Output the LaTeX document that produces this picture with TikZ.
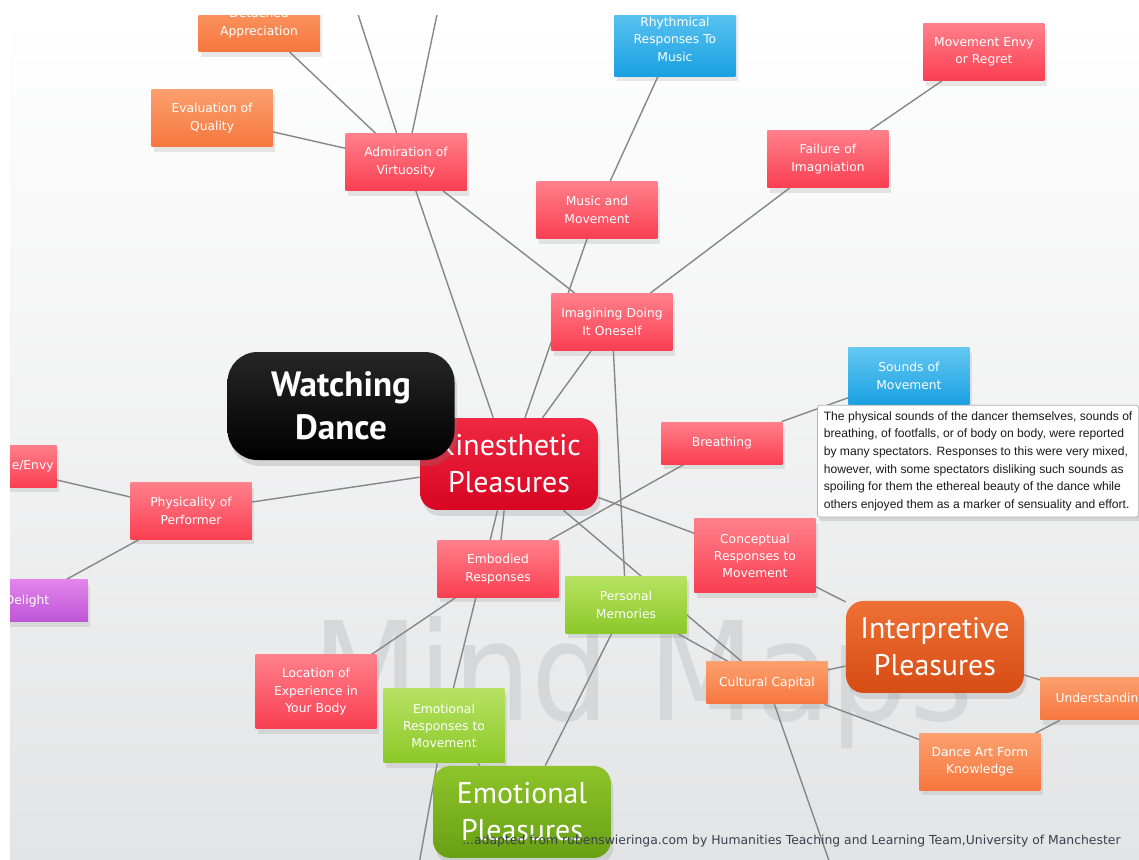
\documentclass[tikz,border=0pt]{standalone}
\usepackage{xcolor}
\usepackage{fontspec}
\setmainfont{DejaVu Sans}
\newfontfamily\headfont{PT Sans}
\newfontfamily\notefont{Liberation Sans}
\usepackage{tikz}
\usetikzlibrary{shadows}

\definecolor{redtop}{RGB}{255,128,138}
\definecolor{redbot}{RGB}{250,62,82}
\definecolor{kintop}{RGB}{240,40,65}
\definecolor{kinbot}{RGB}{215,5,35}
\definecolor{ortop}{RGB}{252,160,110}
\definecolor{orbot}{RGB}{246,118,62}
\definecolor{intop}{RGB}{238,112,52}
\definecolor{inbot}{RGB}{214,76,20}
\definecolor{grtop}{RGB}{182,226,98}
\definecolor{grbot}{RGB}{140,200,40}
\definecolor{eptop}{RGB}{142,196,42}
\definecolor{epbot}{RGB}{104,160,20}
\definecolor{bltop}{RGB}{100,200,242}
\definecolor{blbot}{RGB}{25,160,225}
\definecolor{putop}{RGB}{226,132,236}
\definecolor{pubot}{RGB}{190,85,215}
\definecolor{linkgray}{RGB}{135,135,135}
\definecolor{bgbot}{RGB}{227,228,229}
\definecolor{wmgray}{RGB}{212,216,218}
\definecolor{footgray}{RGB}{60,62,80}

\pgfdeclarelayer{back}
\pgfdeclarelayer{edges}
\pgfsetlayers{back,edges,main}

\begin{document}
\begin{tikzpicture}[x=0.02cm,y=-0.02cm]
      \tikzset{box/.style={rectangle,minimum width=2.42cm,minimum height=1.14cm,text width=2.3cm,align=center,inner sep=1pt,text=white,font=\fontsize{7}{9.9}\selectfont,drop shadow={shadow xshift=0.5mm,shadow yshift=-1mm,opacity=0.18}}}
      \tikzset{one/.style={minimum height=0.84cm}}
      \tikzset{three/.style={minimum height=1.48cm}}
      \tikzset{redbox/.style={box,top color=redtop,bottom color=redbot}}
      \tikzset{orbox/.style={box,top color=ortop,bottom color=orbot}}
      \tikzset{grbox/.style={box,top color=grtop,bottom color=grbot}}
      \tikzset{blbox/.style={box,top color=bltop,bottom color=blbot}}
      \tikzset{pubox/.style={box,top color=putop,bottom color=pubot}}
      \tikzset{big/.style={rectangle,rounded corners=10pt,minimum width=3.56cm,minimum height=1.84cm,align=center,text=white,font=\headfont\fontsize{17}{21}\selectfont,drop shadow={shadow xshift=0.5mm,shadow yshift=-1.2mm,opacity=0.22}}}
      \tikzset{hub/.style={rectangle,rounded corners=17pt,minimum width=4.54cm,minimum height=2.16cm,align=center,text=white,top color=black!85,bottom color=black,font=\headfont\bfseries\fontsize{20}{24.4}\selectfont,drop shadow={shadow xshift=0.5mm,shadow yshift=-1.2mm,opacity=0.25}}}
      \tikzset{note/.style={rectangle,fill=white,draw=black!30,line width=0.4pt,rounded corners=1.5pt,align=left,inner sep=3.6pt,text=black!90,font=\notefont\fontsize{6.9}{10}\selectfont,drop shadow={shadow xshift=0.4mm,shadow yshift=-0.8mm,opacity=0.25}}}
      \tikzset{link/.style={draw=linkgray,line width=0.8pt}}
      \tikzset{credit/.style={font=\fontsize{7.05}{8}\selectfont,text=footgray,inner sep=0pt}}
      
      \useasboundingbox (0,0) rectangle (1139,859);
      
      \begin{pgfonlayer}{back}
      \fill[white] (0,0) rectangle (1139,859);
      \shade[top color=white,bottom color=bgbot] (10,15) rectangle (1139,859);
      \begin{scope}
      \clip (10,15) rectangle (1139,859);
      \node[text=wmgray,inner sep=0pt,anchor=base west,font=\fontsize{78}{80}\selectfont] (wm) at (312,720) {\scalebox{0.9}[1]{Mind Maps}};
      \end{scope}
      \end{pgfonlayer}
      
      \begin{scope}
      \clip (10,15) rectangle (1139,859);
      
      \node[big,top color=kintop,bottom color=kinbot] (kin) at (509,464) {Kinesthetic\\Pleasures};
      \node[hub] (watch) [left of=kin,xshift=-23.6mm,yshift=11.6mm] {Watching\\Dance};
      
      \node[redbox] (admir) [above of=kin,xshift=-20.6mm,yshift=50.4mm] {Admiration of\\Virtuosity};
      \node[orbox] (eval) [left of=admir,xshift=-28.8mm,yshift=8.8mm] {Evaluation of\\Quality};
      \node[orbox] (detach) [above of=admir,xshift=-29.4mm,yshift=17.8mm] {Detached\\Appreciation};
      
      \node[redbox] (imag) [above of=kin,xshift=20.6mm,yshift=18.4mm] {Imagining Doing\\It Oneself};
      \node[redbox] (music) [above of=imag,xshift=-3mm,yshift=12.4mm] {Music and\\Movement};
      \node[blbox,three] (rhythm) [above of=music,xshift=15.6mm,yshift=24.2mm] {Rhythmical\\Responses To\\Music};
      \node[redbox] (fail) [right of=imag,xshift=33.2mm,yshift=32.6mm] {Failure of\\Imagniation};
      \node[redbox] (envy) [right of=fail,xshift=21.2mm,yshift=21.4mm] {Movement Envy\\or Regret};
      
      \node[redbox,one] (breath) [right of=kin,xshift=32.6mm,yshift=4.2mm] {Breathing};
      \node[blbox] (sounds) [right of=breath,xshift=27.4mm,yshift=13.4mm] {Sounds of\\Movement};
      \node[redbox,three] (concept) [right of=kin,xshift=39.2mm,yshift=-18.4mm] {Conceptual\\Responses to\\Movement};
      
      \node[redbox,one,align=right] (penvy) [left of=kin,xshift=-92.6mm,yshift=-0.4mm] {e/Envy};
      \node[redbox] (physic) [left of=kin,xshift=-53.6mm,yshift=-9.4mm] {Physicality of\\Performer};
      \node[pubox,one] (delight) [left of=physic,xshift=-22.8mm,yshift=-18mm] {Delight};
      
      \node[redbox] (embod) [below of=kin,xshift=-2.2mm,yshift=-11mm] {Embodied\\Responses};
      \node[grbox] (pers) [below of=kin,xshift=23.4mm,yshift=-18.2mm] {Personal\\Memories};
      \node[redbox,three] (loc) [left of=embod,xshift=-26.4mm,yshift=-24.6mm] {Location of\\Experience in\\Your Body};
      \node[grbox,three] (emoresp) [below of=embod,xshift=-10.8mm,yshift=-21.4mm] {Emotional\\Responses to\\Movement};
      \node[big,top color=eptop,bottom color=epbot] (emopl) [below of=emoresp,xshift=15.6mm,yshift=-7.2mm] {Emotional\\Pleasures};
      
      \node[orbox,one] (cult) [right of=pers,xshift=18.2mm,yshift=-15.6mm] {Cultural Capital};
      \node[big,top color=intop,bottom color=inbot] (interp) [right of=cult,xshift=23.6mm,yshift=7.2mm] {Interpretive\\Pleasures};
      \node[orbox,one] (under) [right of=interp,xshift=23.2mm,yshift=-10.4mm] {Understanding};
      \node[orbox] (dance) [right of=cult,xshift=32.6mm,yshift=-15.8mm] {Dance Art Form\\Knowledge};
      
      \node[note,anchor=north west] (tip) at ([xshift=-6.2mm]sounds.south west) {The physical sounds of the dancer themselves, sounds of\\breathing, of footfalls, or of body on body, were reported\\by many spectators. Responses to this were very mixed,\\however, with some spectators disliking such sounds as\\spoiling for them the ethereal beauty of the dance while\\others enjoyed them as a marker of sensuality and effort.};
      
      \node[credit,anchor=west] (foot) at (462,841) {...adapted from rubenswieringa.com by Humanities Teaching and Learning Team,University of Manchester};
      \end{scope}
      
      \coordinate (upa) at (355,5);
      \coordinate (upb) at (439,5);
      \coordinate (downa) at (417,875);
      \coordinate (downb) at (834,875);
      
      \begin{pgfonlayer}{edges}
      \begin{scope}
      \clip (10,15) rectangle (1139,859);
      \draw[link] (admir) -- (detach);
      \draw[link] (admir) -- (eval);
      \draw[link] (admir) -- (upa);
      \draw[link] (admir) -- (upb);
      \draw[link] (admir) -- (kin);
      \draw[link] (admir) -- (imag);
      \draw[link] (rhythm) -- (music);
      \draw[link] (music) -- (kin);
      \draw[link] (envy) -- (fail);
      \draw[link] (fail) -- (imag);
      \draw[link] (imag) -- (kin);
      \draw[link] (imag) -- (pers);
      \draw[link] (kin) -- (physic);
      \draw[link] (physic) -- (penvy);
      \draw[link] (physic) -- (delight);
      \draw[link] (kin) -- (embod);
      \draw[link] (kin) -- (emoresp);
      \draw[link] (kin) -- (concept);
      \draw[link] (kin) -- (cult);
      \draw[link] (breath) -- (sounds);
      \draw[link] (breath) -- (embod);
      \draw[link] (embod) -- (loc);
      \draw[link] (emoresp) -- (downa);
      \draw[link] (emoresp) -- (emopl);
      \draw[link] (pers) -- (cult);
      \draw[link] (pers) -- (emopl);
      \draw[link] (concept) -- (interp);
      \draw[link] (cult) -- (interp);
      \draw[link] (cult) -- (dance);
      \draw[link] (cult) -- (downb);
      \draw[link] (interp) -- (under);
      \draw[link] (under) -- (dance);
      \end{scope}
      \end{pgfonlayer}
      
\end{tikzpicture}
\end{document}
